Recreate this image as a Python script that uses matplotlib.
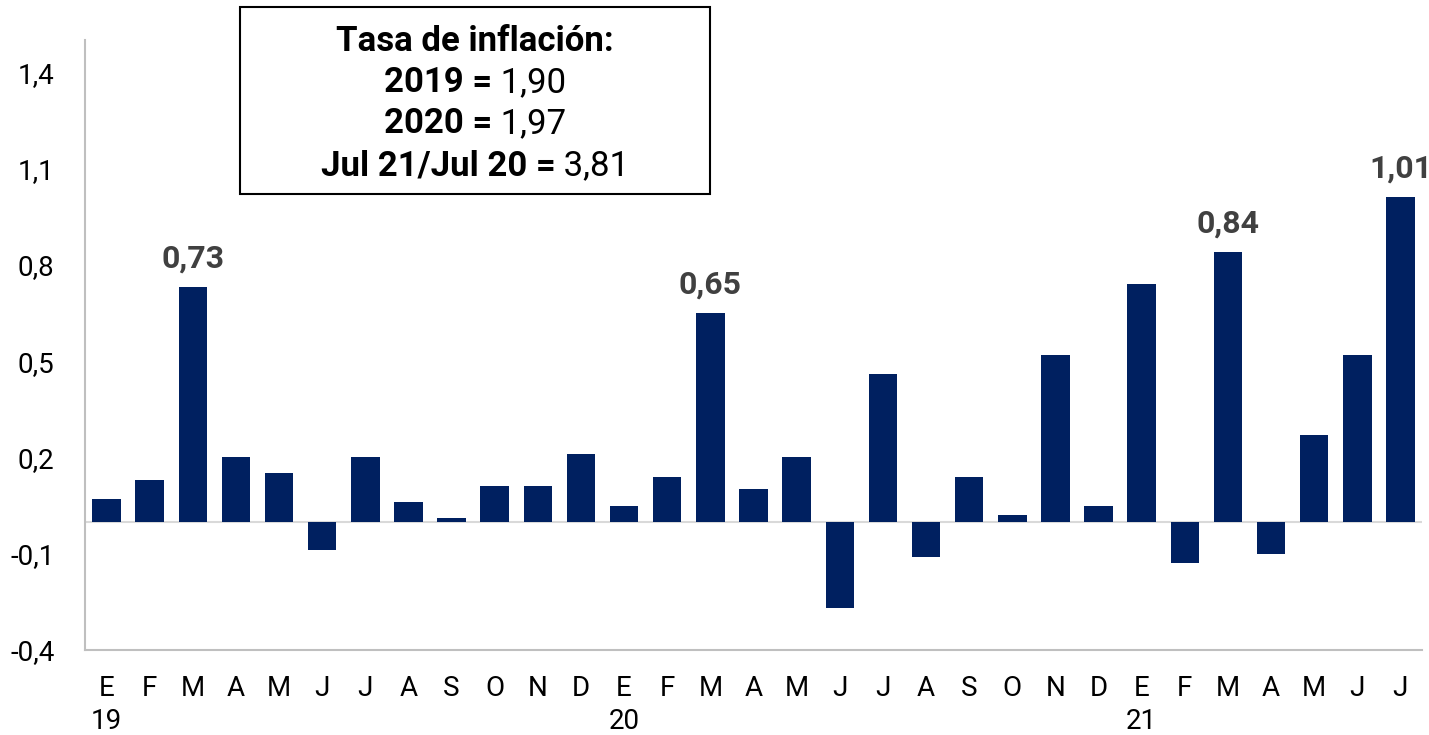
import numpy as np
import matplotlib.pyplot as plt
from matplotlib.patches import Rectangle

plt.rcParams['font.family'] = ['Roboto', 'DejaVu Sans']

# Datos: variación mensual del IPC (%)
meses = ['E', 'F', 'M', 'A', 'M', 'J', 'J', 'A', 'S', 'O', 'N', 'D',
         'E', 'F', 'M', 'A', 'M', 'J', 'J', 'A', 'S', 'O', 'N', 'D',
         'E', 'F', 'M', 'A', 'M', 'J', 'J']
anios = {0: '19', 12: '20', 24: '21'}
valores = [0.07, 0.13, 0.73, 0.20, 0.15, -0.09, 0.20, 0.06, 0.01, 0.11, 0.11, 0.21,
           0.05, 0.14, 0.65, 0.10, 0.20, -0.27, 0.46, -0.11, 0.14, 0.02, 0.52, 0.05,
           0.74, -0.13, 0.84, -0.10, 0.27, 0.52, 1.01]
etiquetados = [2, 14, 26, 30]
yticks = [-0.4, -0.1, 0.2, 0.5, 0.8, 1.1, 1.4]

W, H = 1429, 735
fig = plt.figure(figsize=(W / 100, H / 100), dpi=100)
ax = fig.add_axes([85 / W, 1 - 650 / H, (1422 - 85) / W, (650 - 40) / H])

x = np.arange(len(valores))
ax.bar(x, valores, width=0.66, color='#002060', zorder=2)
ax.axhline(0, color='#D9D9D9', lw=1.5, zorder=1)

ax.set_xlim(-0.5, len(valores) - 0.5)
ax.set_ylim(-0.4, 1.5)
ax.set_yticks(yticks)
ax.set_yticklabels([f'{v:.1f}'.replace('.', ',') for v in yticks], fontsize=20)
ax.set_xticks(x)
ax.set_xticklabels([m + ('\n' + anios[i] if i in anios else '') for i, m in enumerate(meses)],
                   fontsize=20, linespacing=1.3)
ax.tick_params(axis='y', length=0, pad=22)
ax.tick_params(axis='x', length=0, pad=18)
for s in ['top', 'right']:
    ax.spines[s].set_visible(False)
for s in ['left', 'bottom']:
    ax.spines[s].set_color('#BFBFBF')
    ax.spines[s].set_linewidth(1.5)

for i in etiquetados:
    ax.annotate(f'{valores[i]:.2f}'.replace('.', ','), (x[i], valores[i]),
                xytext=(0, 14), textcoords='offset points', ha='center', va='baseline',
                fontsize=23, fontweight='bold', color='#404040')

# Recuadro con tasas anuales
fig.patches.append(Rectangle((240 / W, 1 - 194 / H), (710 - 240) / W, (194 - 7) / H,
                             transform=fig.transFigure, fill=False, ec='black', lw=1.5))
cx = 475 / W
fig.text(cx, 1 - 51 / H, 'Tasa de inflación:', ha='center', va='baseline',
         fontsize=25, fontweight='bold')

renderer = fig.canvas.get_renderer()
lineas = [('2019 =', ' 1,90', 92), ('2020 =', ' 1,97', 133), ('Jul 21/Jul 20 =', ' 3,81', 175)]
for negrita, normal, yb in lineas:
    t1 = fig.text(0, 1 - yb / H, negrita, ha='left', va='baseline', fontsize=25, fontweight='bold')
    t2 = fig.text(0, 1 - yb / H, normal, ha='left', va='baseline', fontsize=25)
    w1 = t1.get_window_extent(renderer).width / W
    w2 = t2.get_window_extent(renderer).width / W
    x0 = cx - (w1 + w2) / 2
    t1.set_x(x0)
    t2.set_x(x0 + w1)

fig.savefig('out.png', dpi=100)
